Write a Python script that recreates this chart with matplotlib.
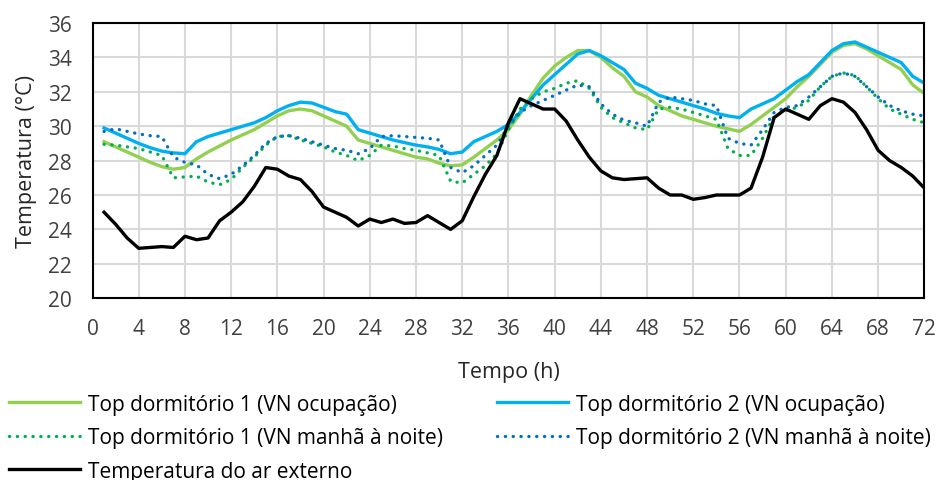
import matplotlib
matplotlib.use("Agg")
import matplotlib.pyplot as plt
import numpy as np

plt.rcParams['font.family'] = ['Open Sans', 'DejaVu Sans']

hours = list(range(1, 73))

t_ext = [25.0, 24.3, 23.5, 22.9, 22.95, 23.0, 22.95, 23.6, 23.4, 23.5,
         24.5, 25.0, 25.6, 26.5, 27.6, 27.5, 27.1, 26.9, 26.2, 25.3,
         25.0, 24.7, 24.2, 24.6, 24.4, 24.6, 24.35, 24.4, 24.8, 24.4,
         24.0, 24.5, 25.9, 27.2, 28.3, 30.2, 31.6, 31.3, 31.0, 31.0,
         30.3, 29.2, 28.2, 27.4, 27.0, 26.9, 26.95, 27.0, 26.4, 26.0,
         26.0, 25.75, 25.85, 26.0, 26.0, 26.0, 26.4, 28.2, 30.5, 31.0,
         30.7, 30.4, 31.2, 31.6, 31.4, 30.8, 29.8, 28.6, 28.0, 27.6,
         27.1, 26.4]

d2_ocup = [29.9, 29.6, 29.3, 29.0, 28.75, 28.55, 28.45, 28.4, 29.1, 29.4,
           29.6, 29.8, 30.0, 30.2, 30.5, 30.9, 31.2, 31.4, 31.35, 31.1,
           30.85, 30.7, 29.8, 29.6, 29.4, 29.2, 29.05, 28.9, 28.8, 28.65,
           28.4, 28.5, 29.1, 29.4, 29.7, 30.1, 30.8, 31.6, 32.4, 33.0,
           33.6, 34.2, 34.4, 34.1, 33.7, 33.3, 32.5, 32.2, 31.8, 31.6,
           31.4, 31.2, 31.0, 30.75, 30.6, 30.5, 31.0, 31.3, 31.6, 32.1,
           32.6, 33.0, 33.7, 34.4, 34.8, 34.9, 34.6, 34.3, 34.0, 33.7,
           32.9, 32.5]

d1_ocup = [29.1, 28.8, 28.5, 28.2, 27.9, 27.65, 27.5, 27.6, 28.1, 28.5,
           28.85, 29.2, 29.5, 29.8, 30.2, 30.6, 30.9, 31.0, 30.9, 30.6,
           30.3, 30.0, 29.2, 29.0, 28.8, 28.6, 28.4, 28.2, 28.1, 27.85,
           27.7, 27.75, 28.2, 28.7, 29.2, 29.8, 30.7, 31.8, 32.8, 33.5,
           34.0, 34.4, 34.4, 34.0, 33.4, 32.9, 32.0, 31.7, 31.2, 30.9,
           30.6, 30.4, 30.2, 30.0, 29.85, 29.7, 30.1, 30.6, 31.1, 31.6,
           32.3, 32.9, 33.6, 34.3, 34.7, 34.8, 34.5, 34.1, 33.7, 33.3,
           32.4, 31.9]

d2_manha = [29.7, 29.85, 29.7, 29.55, 29.45, 29.4, 28.2, 27.9, 27.75, 27.2,
            26.95, 27.2, 27.7, 28.3, 29.0, 29.4, 29.45, 29.3, 29.1, 28.9,
            28.7, 28.6, 28.4, 28.7, 29.4, 29.45, 29.4, 29.35, 29.3, 29.2,
            27.6, 27.3, 27.7, 28.3, 28.9, 30.0, 30.8, 31.2, 31.5, 31.8,
            32.1, 32.4, 32.3, 31.3, 30.7, 30.35, 30.2, 30.0, 31.4, 31.7,
            31.6, 31.5, 31.3, 31.2, 29.3, 29.0, 28.9, 29.8, 30.8, 31.1,
            31.2, 31.7, 32.3, 32.9, 33.1, 32.9, 32.3, 31.7, 31.2, 30.9,
            30.7, 30.6]

d1_manha = [28.95, 28.9, 28.8, 28.7, 28.5, 28.3, 27.0, 27.05, 27.1, 26.75,
            26.6, 26.9, 27.6, 28.2, 28.9, 29.4, 29.45, 29.2, 29.0, 28.8,
            28.5, 28.3, 28.0, 28.3, 28.9, 28.85, 28.7, 28.6, 28.45, 28.3,
            26.8, 26.7, 27.2, 27.7, 28.4, 29.8, 31.0, 31.6, 32.0, 32.2,
            32.5, 32.65, 32.2, 31.1, 30.5, 30.2, 29.9, 29.8, 31.0, 31.1,
            31.0, 30.8, 30.6, 30.4, 28.7, 28.3, 28.3, 29.3, 30.6, 30.9,
            31.1, 31.5, 32.3, 32.9, 33.1, 32.95, 32.3, 31.6, 31.0, 30.7,
            30.4, 30.2]

labels = ["Top dormitório 1 (VN ocupação)", "Top dormitório 2 (VN ocupação)",
          "Top dormitório 1 (VN manhã à noite)", "Top dormitório 2 (VN manhã à noite)",
          "Temperatura do ar externo"]

xticks = list(range(0, 73, 4))
yticks = list(range(20, 37, 2))

fig = plt.figure(figsize=(9.41, 4.81), dpi=100)
ax = fig.add_axes([0.0983, 0.378, 0.884, 0.572])

dot = (0, (0.05, 2.3))
l1, = ax.plot(hours, d1_ocup, color='#92D050', lw=2.4, label=labels[0])
l2, = ax.plot(hours, d2_ocup, color='#00B0F0', lw=2.4, label=labels[1])
l3, = ax.plot(hours, d1_manha, color='#00B050', lw=2.4, ls=dot,
              dash_capstyle='round', label=labels[2])
l4, = ax.plot(hours, d2_manha, color='#0070C0', lw=2.4, ls=dot,
              dash_capstyle='round', label=labels[3])
l5, = ax.plot(hours, t_ext, color='black', lw=2.4, label=labels[4])

ax.set_xlim(0, 72)
ax.set_ylim(20, 36)
ax.set_xticks(xticks)
ax.set_yticks(yticks)
ax.tick_params(length=0, labelsize=15, colors='#404040')
ax.tick_params(axis='y', pad=15)
ax.tick_params(axis='x', pad=14)
ax.grid(True, color='#D9D9D9', lw=1.5)
ax.set_axisbelow(True)
for s in ax.spines.values():
    s.set_color('black')
    s.set_linewidth(1.5)

ax.set_xlabel("Tempo (h)", fontsize=15.5, labelpad=16, color='#262626')
ax.set_ylabel("Temperatura (°C)", fontsize=15.5, labelpad=8, color='#262626')

fig.legend([l1, l3, l5, l2, l4], [labels[0], labels[2], labels[4], labels[1], labels[3]],
           ncol=2, loc='upper left', bbox_to_anchor=(0.0005, 0.197),
           frameon=False, fontsize=15, handlelength=3.4, handletextpad=0.4,
           columnspacing=2.6, labelspacing=0.6, borderaxespad=0)

fig.savefig("out.png", dpi=100)
